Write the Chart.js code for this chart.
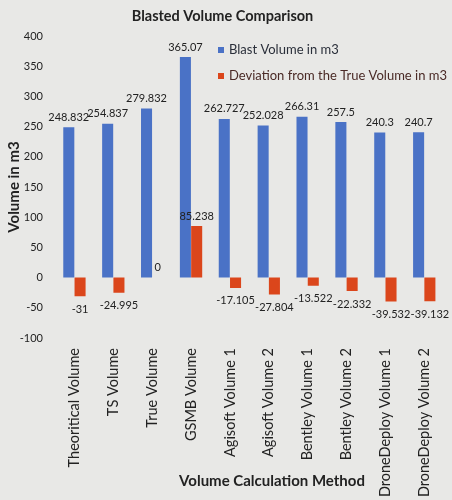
<!DOCTYPE html>
<html>
<head>
<meta charset="utf-8">
<script src="https://cdn.jsdelivr.net/npm/chart.js@4.4.1/dist/chart.umd.min.js"></script>
<style>
  html, body { margin: 0; padding: 0; background: #e8e8e6; }
  #wrap { width: 452px; height: 500px; position: relative; }
</style>
</head>
<body>
<div id="wrap"><canvas id="c" width="452" height="500"></canvas></div>
<script>
const categories = ["Theoritical Volume", "TS Volume", "True Volume", "GSMB Volume",
  "Agisoft Volume 1", "Agisoft Volume 2", "Bentley Volume 1", "Bentley Volume 2",
  "DroneDeploy Volume 1", "DroneDeploy Volume 2"];
const blastVolume = [248.832, 254.837, 279.832, 365.07, 262.727, 252.028, 266.31, 257.5, 240.3, 240.7];
const deviation = [-31, -24.995, 0, 85.238, -17.105, -27.804, -13.522, -22.332, -39.532, -39.132];
const seriesNames = ["Blast Volume in m3", "Deviation from the True Volume in m3"];
const yMin = -100, yMax = 400, yStep = 50;

const FONT = "Lato, 'Open Sans', sans-serif";
const BLUE = "#4a72c6";
const RED = "#db461b";

const extras = {
  id: 'extras',
  afterDatasetsDraw(chart) {
    const ctx = chart.ctx;
    ctx.save();
    // data labels
    ctx.font = "11px " + FONT;
    ctx.fillStyle = "#222";
    ctx.textAlign = "center";
    ctx.textBaseline = "middle";
    chart.data.datasets.forEach((ds, di) => {
      const meta = chart.getDatasetMeta(di);
      meta.data.forEach((bar, i) => {
        const v = ds.data[i];
        const y = v < 0 ? bar.y + 13 : bar.y - 10;
        ctx.fillText(String(v), bar.x, y);
      });
    });
    // legend
    const items = [[BLUE, "#2a2f3a", 50], [RED, "#4a2a26", 76]];
    ctx.font = "13px " + FONT;
    ctx.textAlign = "left";
    items.forEach((it, k) => {
      ctx.fillStyle = it[0];
      ctx.fillRect(218, it[2] - 3, 6, 6);
      ctx.fillStyle = it[1];
      ctx.fillText(seriesNames[k], 229, it[2]);
    });
    // x axis title
    ctx.font = "bold 15px " + FONT;
    ctx.fillStyle = "#222";
    ctx.textAlign = "center";
    ctx.fillText("Volume Calculation Method", 272, 481);
    ctx.restore();
  }
};

new Chart(document.getElementById('c'), {
  type: 'bar',
  data: {
    labels: categories,
    datasets: [
      { label: seriesNames[0], data: blastVolume, backgroundColor: BLUE },
      { label: seriesNames[1], data: deviation, backgroundColor: RED }
    ]
  },
  options: {
    responsive: false,
    animation: false,
    devicePixelRatio: 1,
    layout: { padding: { left: 0, right: 7, top: 0, bottom: 0 } },
    datasets: { bar: { categoryPercentage: 0.58, barPercentage: 0.98 } },
    plugins: {
      legend: { display: false },
      tooltip: { enabled: false },
      title: {
        display: true,
        text: "Blasted Volume Comparison",
        color: "#222",
        font: { family: FONT, size: 14.5, weight: 'bold' },
        padding: { top: 8, bottom: 10.6 }
      }
    },
    scales: {
      x: {
        grid: { display: false, drawTicks: false },
        border: { display: false },
        ticks: {
          autoSkip: false, minRotation: 90, maxRotation: 90, padding: 10,
          color: "#222", font: { family: FONT, size: 14.5 }
        },
        afterFit(scale) { scale.height = 162; }
      },
      y: {
        min: yMin, max: yMax,
        grid: { display: false, drawTicks: false },
        border: { display: false },
        ticks: { stepSize: yStep, padding: 12, color: "#222", font: { family: FONT, size: 11 } },
        title: {
          display: true, text: "Volume in m3", color: "#222",
          font: { family: FONT, size: 15, weight: 'bold' },
          padding: { top: 5, bottom: 0 }
        },
        afterFit(scale) { scale.width = 55; }
      }
    }
  },
  plugins: [extras]
});
</script>
</body>
</html>
